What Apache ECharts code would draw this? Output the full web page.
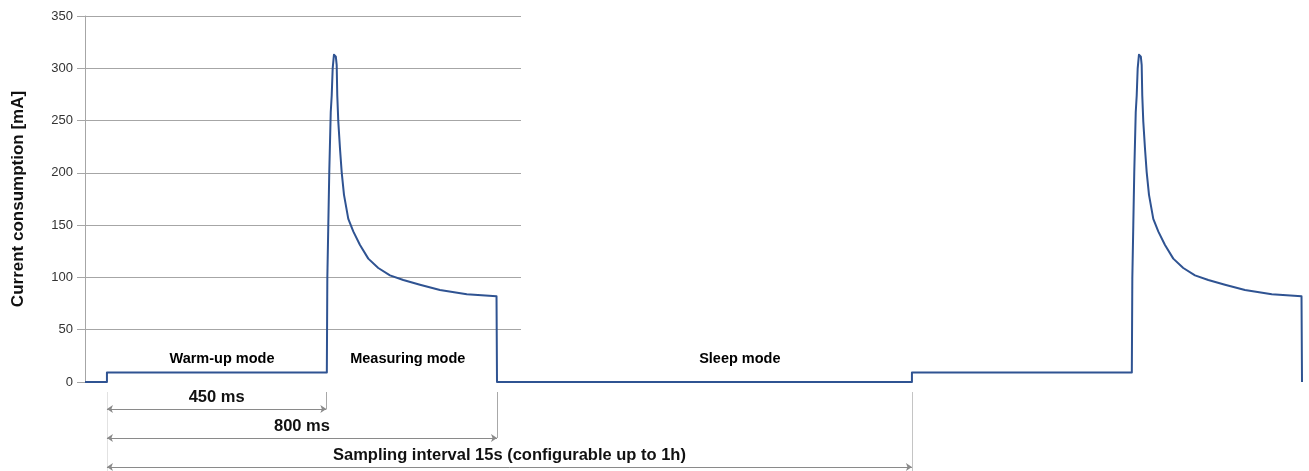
<!DOCTYPE html>
<html>
<head>
<meta charset="utf-8">
<script src="https://cdn.jsdelivr.net/npm/echarts@6/dist/echarts.min.js"></script>
<style>
html,body{margin:0;padding:0;background:#fff;}
#chart{width:1309px;height:471px;}
</style>
</head>
<body>
<div id="chart"></div>
<script>
// ---- data ----
var yTicks = [0, 50, 100, 150, 200, 250, 300, 350];
// time position (ms-like scale of the drawing) and current [mA]
var traceT = [-45, 0, 0, 451, 452, 454, 456, 459, 461, 463, 465.6, 467.7, 469.5, 471.2, 472.4, 474.5, 478, 481.4, 486.2, 495, 505.2, 519, 536, 556.5, 580.5, 607.8, 642, 683, 738, 799, 800,
              1651, 1651,
              2102, 2103, 2105, 2107, 2110, 2112, 2114, 2116.6, 2118.7, 2120.5, 2122.2, 2123.4, 2125.5, 2129, 2132.4, 2137.2, 2146, 2156.2, 2170, 2187, 2207.5, 2231.5, 2258.8, 2293, 2334, 2389, 2450, 2451];
var traceI = [0, 0, 9, 9, 99, 150, 201, 258, 274, 300, 313, 313.5, 311, 303, 274, 249, 223, 201, 179, 156, 144, 131, 118, 109, 102, 97.5, 93, 88, 84, 82, 0,
              0, 9,
              9, 99, 150, 201, 258, 274, 300, 313, 313.5, 311, 303, 274, 249, 223, 201, 179, 156, 144, 131, 118, 109, 102, 97.5, 93, 88, 84, 82, 0];
var modeNames = ['Warm-up mode', 'Measuring mode', 'Sleep mode'];
var modeT = [236, 617, 1298];
var modeI = [22, 22, 22];
var spanEnds = [450, 800, 1651];
var spanLabels = ['450 ms', '800 ms', 'Sampling interval 15s (configurable up to 1h)'];

// ---- chart ----
var chart = echarts.init(document.getElementById('chart'), null, {renderer: 'canvas'});
var FONT = 'Liberation Sans, Arial, sans-serif';
var traceData = traceT.map(function (t, i) { return [t, traceI[i]]; });
var modeData = modeNames.map(function (n, i) { return {name: n, value: [modeT[i], modeI[i]]}; });

var arrowRows = [27, 56, 85];
var markData = [];
// vertical guide lines
markData.push([{coord: [0, 10], lineStyle: {color: '#e2e2e2'}}, {coord: [0, 89]}]);
markData.push([{coord: [spanEnds[0], 10], lineStyle: {color: '#a8a8a8'}}, {coord: [spanEnds[0], arrowRows[0]]}]);
markData.push([{coord: [spanEnds[1], 10], lineStyle: {color: '#a8a8a8'}}, {coord: [spanEnds[1], arrowRows[1]]}]);
markData.push([{coord: [spanEnds[2], 10], lineStyle: {color: '#c4c4c4'}}, {coord: [spanEnds[2], 89]}]);
spanEnds.forEach(function (e, i) {
  markData.push([
    {coord: [0, arrowRows[i]], symbol: 'arrow', symbolSize: 6,
     lineStyle: {color: '#8a8a8a'},
     label: {show: true, position: 'middle', formatter: spanLabels[i], distance: 3,
             fontFamily: FONT, fontWeight: 'bold', fontSize: 16.5, color: '#111'}},
    {coord: [e, arrowRows[i]], symbol: 'arrow', symbolSize: 6}
  ]);
});
markData.forEach(function (p) {
  if (!p[0].symbol) { p[0].symbol = 'none'; p[1].symbol = 'none'; p[0].label = {show: false}; }
});

var plotTop = 16, plotH = 366;
var gridLineBottom = 471 - plotTop - plotH * 300 / 350;

var option = {
  animation: false,
  backgroundColor: '#ffffff',
  grid: [
    {left: 85, right: 7, top: plotTop, height: plotH, containLabel: false},
    {left: 85, width: 436, top: plotTop, bottom: gridLineBottom, containLabel: false},
    {left: 85, right: 7, top: 382, height: 89, containLabel: false}
  ],
  xAxis: [
    {type: 'value', gridIndex: 0, min: -45, max: 2451, show: false},
    {type: 'value', gridIndex: 1, min: -45, max: 850, show: false},
    {type: 'value', gridIndex: 2, min: -45, max: 2451, show: false}
  ],
  yAxis: [
    {type: 'value', gridIndex: 0, min: 0, max: 350, interval: 50,
     name: 'Current consumption [mA]', nameLocation: 'middle', nameGap: 58, nameRotate: 90,
     nameTextStyle: {fontFamily: FONT, fontWeight: 'bold', fontSize: 17, color: '#111'},
     axisLine: {show: true, onZero: false, lineStyle: {color: '#a6a6a6', width: 1}},
     axisTick: {show: true, inside: false, length: 8, lineStyle: {color: '#a6a6a6'}},
     axisLabel: {fontFamily: FONT, fontSize: 13, color: '#333', margin: 12,
                 formatter: function (v) { return yTicks.indexOf(v) >= 0 ? String(v) : ''; }},
     splitLine: {show: false}},
    {type: 'value', gridIndex: 1, min: 50, max: 350, interval: 50,
     axisLine: {show: false, onZero: false}, axisTick: {show: false}, axisLabel: {show: false},
     splitLine: {show: true, lineStyle: {color: '#a6a6a6', width: 1}}},
    {type: 'value', gridIndex: 2, min: 0, max: 89, inverse: true, show: false}
  ],
  series: [
    {type: 'line', xAxisIndex: 0, yAxisIndex: 0, data: traceData, showSymbol: false, symbol: 'none',
     lineStyle: {color: '#2f5392', width: 2, join: 'round'}, clip: false, z: 5},
    {type: 'scatter', xAxisIndex: 0, yAxisIndex: 0, data: modeData, symbolSize: 0,
     label: {show: true, position: 'inside', formatter: '{b}', fontFamily: FONT, fontWeight: 'bold',
             fontSize: 14.5, color: '#000', textBorderWidth: 0, opacity: 1}, z: 6},
    {type: 'line', xAxisIndex: 2, yAxisIndex: 2, data: [[-45, 0]], showSymbol: false, symbol: 'none',
     lineStyle: {opacity: 0},
     markLine: {silent: true, animation: false, precision: 6,
                lineStyle: {type: 'solid', width: 1},
                data: markData}}
  ]
};
chart.setOption(option);
</script>
</body>
</html>
